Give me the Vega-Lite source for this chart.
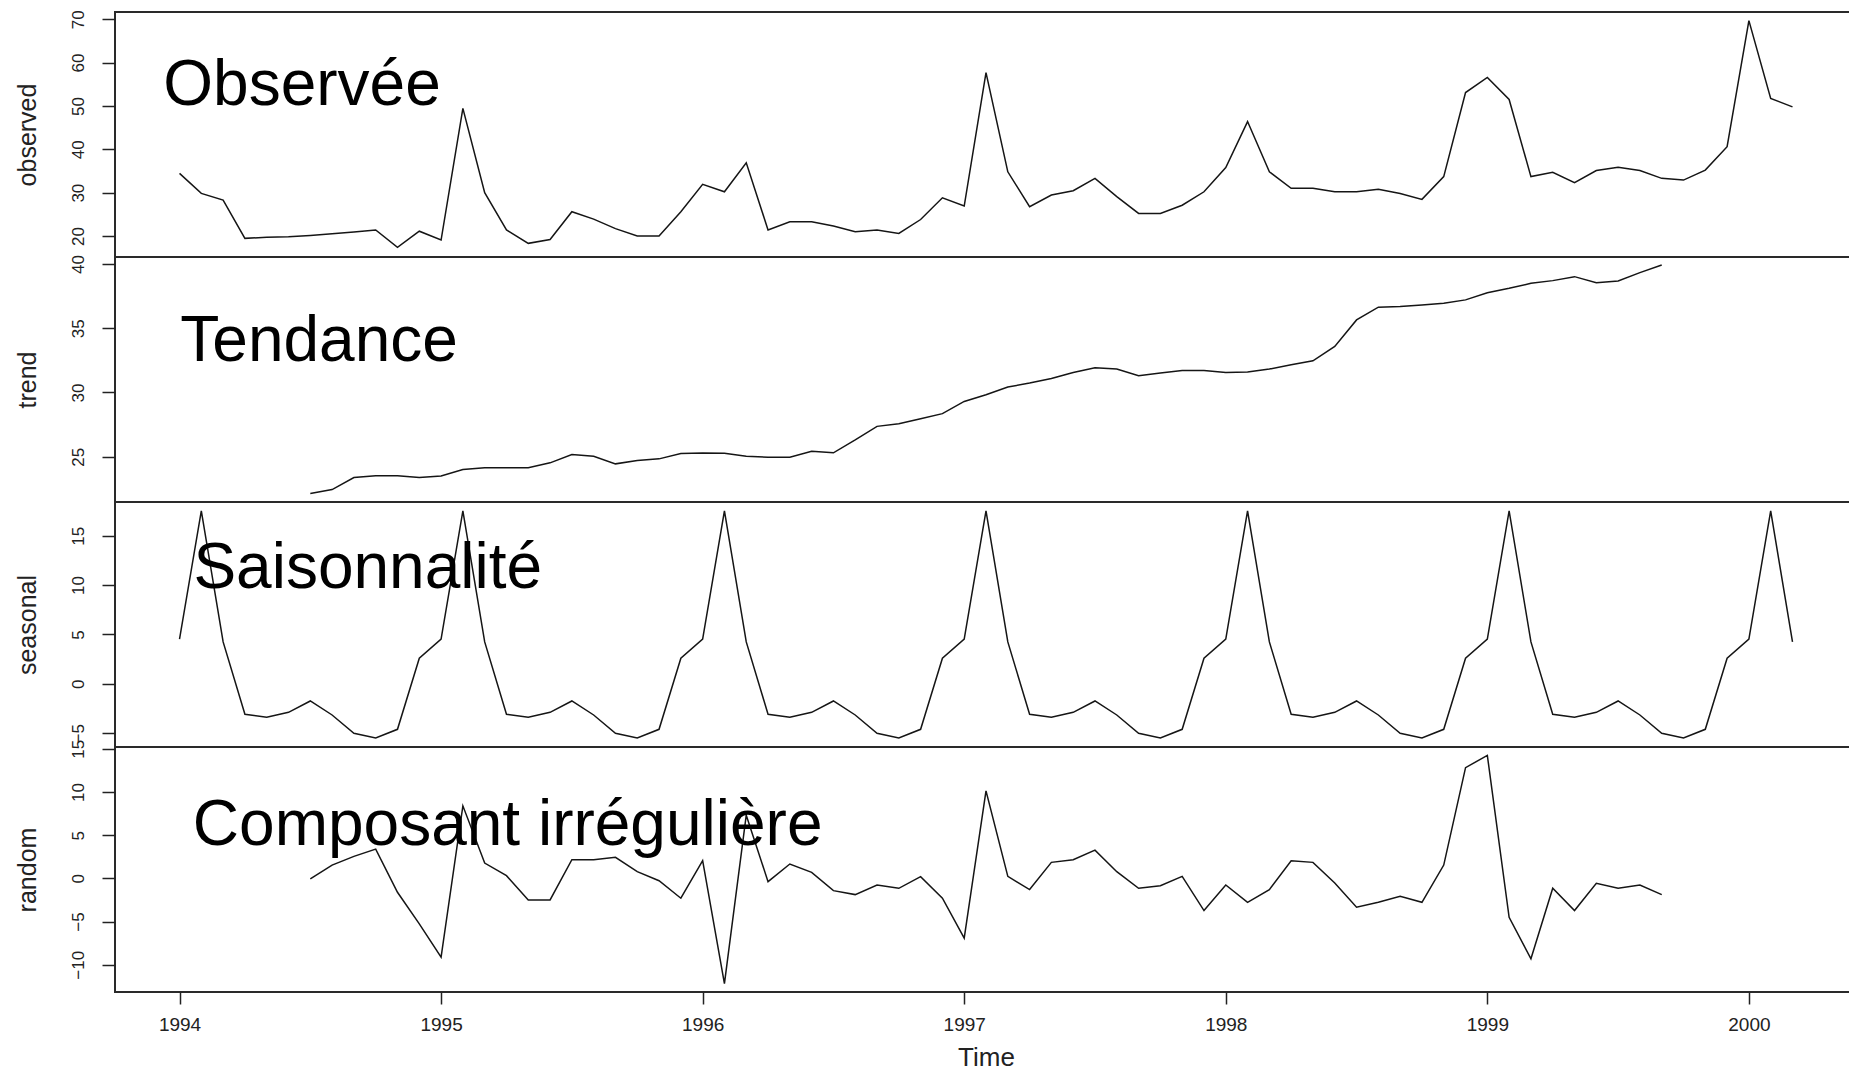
{
  "$schema": "https://vega.github.io/schema/vega-lite/v6.json",
  "autosize": {"type": "none"},
  "padding": {"left": 115, "top": 12, "right": 1734, "bottom": 1059},
  "background": "white",
  "spacing": 0,
  "bounds": "flush",
  "datasets": {
    "ts": [
      {"t": 1994, "observed": 34.45, "seasonal": 4.54},
      {"t": 1994.0833, "observed": 29.83, "seasonal": 17.5},
      {"t": 1994.1667, "observed": 28.3, "seasonal": 4.25},
      {"t": 1994.25, "observed": 19.45, "seasonal": -3.08},
      {"t": 1994.3333, "observed": 19.7, "seasonal": -3.38},
      {"t": 1994.4167, "observed": 19.8, "seasonal": -2.88},
      {"t": 1994.5, "observed": 20.1, "trend": 22.13, "seasonal": -1.73, "random": -0.07},
      {"t": 1994.5833, "observed": 20.5, "trend": 22.44, "seasonal": -3.15, "random": 1.54},
      {"t": 1994.6667, "observed": 20.9, "trend": 23.37, "seasonal": -5.0, "random": 2.54},
      {"t": 1994.75, "observed": 21.4, "trend": 23.51, "seasonal": -5.48, "random": 3.39},
      {"t": 1994.8333, "observed": 17.4, "trend": 23.51, "seasonal": -4.6, "random": -1.61},
      {"t": 1994.9167, "observed": 21.1, "trend": 23.37, "seasonal": 2.59, "random": -5.27},
      {"t": 1995, "observed": 19.07, "trend": 23.5, "seasonal": 4.54, "random": -9.11},
      {"t": 1995.0833, "observed": 49.45, "trend": 24.0, "seasonal": 17.5, "random": 8.39},
      {"t": 1995.1667, "observed": 30.0, "trend": 24.13, "seasonal": 4.25, "random": 1.77},
      {"t": 1995.25, "observed": 21.4, "trend": 24.13, "seasonal": -3.08, "random": 0.31},
      {"t": 1995.3333, "observed": 18.3, "trend": 24.14, "seasonal": -3.38, "random": -2.5},
      {"t": 1995.4167, "observed": 19.2, "trend": 24.52, "seasonal": -2.88, "random": -2.5},
      {"t": 1995.5, "observed": 25.6, "trend": 25.16, "seasonal": -1.73, "random": 2.16},
      {"t": 1995.5833, "observed": 23.9, "trend": 25.03, "seasonal": -3.15, "random": 2.16},
      {"t": 1995.6667, "observed": 21.7, "trend": 24.44, "seasonal": -5.0, "random": 2.43},
      {"t": 1995.75, "observed": 20.0, "trend": 24.7, "seasonal": -5.48, "random": 0.77},
      {"t": 1995.8333, "observed": 20.0, "trend": 24.83, "seasonal": -4.6, "random": -0.27},
      {"t": 1995.9167, "observed": 25.6, "trend": 25.24, "seasonal": 2.59, "random": -2.3},
      {"t": 1996, "observed": 31.9, "trend": 25.29, "seasonal": 4.54, "random": 2.04},
      {"t": 1996.0833, "observed": 30.2, "trend": 25.27, "seasonal": 17.5, "random": -12.19},
      {"t": 1996.1667, "observed": 36.9, "trend": 25.03, "seasonal": 4.25, "random": 7.31},
      {"t": 1996.25, "observed": 21.4, "trend": 24.95, "seasonal": -3.08, "random": -0.38},
      {"t": 1996.3333, "observed": 23.3, "trend": 24.95, "seasonal": -3.38, "random": 1.66},
      {"t": 1996.4167, "observed": 23.3, "trend": 25.42, "seasonal": -2.88, "random": 0.7},
      {"t": 1996.5, "observed": 22.3, "trend": 25.3, "seasonal": -1.73, "random": -1.42},
      {"t": 1996.5833, "observed": 21.0, "trend": 26.3, "seasonal": -3.15, "random": -1.88},
      {"t": 1996.6667, "observed": 21.4, "trend": 27.36, "seasonal": -5.0, "random": -0.77},
      {"t": 1996.75, "observed": 20.6, "trend": 27.57, "seasonal": -5.48, "random": -1.15},
      {"t": 1996.8333, "observed": 23.8, "trend": 27.96, "seasonal": -4.6, "random": 0.2},
      {"t": 1996.9167, "observed": 28.8, "trend": 28.35, "seasonal": 2.59, "random": -2.3},
      {"t": 1997, "observed": 26.9, "trend": 29.3, "seasonal": 4.54, "random": -6.92},
      {"t": 1997.0833, "observed": 57.7, "trend": 29.82, "seasonal": 17.5, "random": 10.12},
      {"t": 1997.1667, "observed": 34.8, "trend": 30.42, "seasonal": 4.25, "random": 0.23},
      {"t": 1997.25, "observed": 26.75, "trend": 30.73, "seasonal": -3.08, "random": -1.3},
      {"t": 1997.3333, "observed": 29.45, "trend": 31.09, "seasonal": -3.38, "random": 1.85},
      {"t": 1997.4167, "observed": 30.45, "trend": 31.56, "seasonal": -2.88, "random": 2.16},
      {"t": 1997.5, "observed": 33.3, "trend": 31.92, "seasonal": -1.73, "random": 3.27},
      {"t": 1997.5833, "observed": 29.07, "trend": 31.82, "seasonal": -3.15, "random": 0.77},
      {"t": 1997.6667, "observed": 25.2, "trend": 31.3, "seasonal": -5.0, "random": -1.15},
      {"t": 1997.75, "observed": 25.2, "trend": 31.51, "seasonal": -5.48, "random": -0.85},
      {"t": 1997.8333, "observed": 27.1, "trend": 31.72, "seasonal": -4.6, "random": 0.23},
      {"t": 1997.9167, "observed": 30.2, "trend": 31.72, "seasonal": 2.59, "random": -3.73},
      {"t": 1998, "observed": 35.8, "trend": 31.56, "seasonal": 4.54, "random": -0.77},
      {"t": 1998.0833, "observed": 46.4, "trend": 31.59, "seasonal": 17.5, "random": -2.77},
      {"t": 1998.1667, "observed": 34.8, "trend": 31.82, "seasonal": 4.25, "random": -1.3},
      {"t": 1998.25, "observed": 31.0, "trend": 32.16, "seasonal": -3.08, "random": 2.04},
      {"t": 1998.3333, "observed": 31.0, "trend": 32.47, "seasonal": -3.38, "random": 1.85},
      {"t": 1998.4167, "observed": 30.2, "trend": 33.58, "seasonal": -2.88, "random": -0.54},
      {"t": 1998.5, "observed": 30.2, "trend": 35.65, "seasonal": -1.73, "random": -3.34},
      {"t": 1998.5833, "observed": 30.8, "trend": 36.64, "seasonal": -3.15, "random": -2.77},
      {"t": 1998.6667, "observed": 29.8, "trend": 36.69, "seasonal": -5.0, "random": -2.08},
      {"t": 1998.75, "observed": 28.45, "trend": 36.82, "seasonal": -5.48, "random": -2.77},
      {"t": 1998.8333, "observed": 33.7, "trend": 36.95, "seasonal": -4.6, "random": 1.54},
      {"t": 1998.9167, "observed": 53.1, "trend": 37.21, "seasonal": 2.59, "random": 12.81},
      {"t": 1999, "observed": 56.6, "trend": 37.77, "seasonal": 4.54, "random": 14.23},
      {"t": 1999.0833, "observed": 51.5, "trend": 38.11, "seasonal": 17.5, "random": -4.5},
      {"t": 1999.1667, "observed": 33.7, "trend": 38.5, "seasonal": 4.25, "random": -9.31},
      {"t": 1999.25, "observed": 34.7, "trend": 38.71, "seasonal": -3.08, "random": -1.15},
      {"t": 1999.3333, "observed": 32.3, "trend": 39.02, "seasonal": -3.38, "random": -3.73},
      {"t": 1999.4167, "observed": 35.1, "trend": 38.55, "seasonal": -2.88, "random": -0.57},
      {"t": 1999.5, "observed": 35.85, "trend": 38.68, "seasonal": -1.73, "random": -1.15},
      {"t": 1999.5833, "observed": 35.1, "trend": 39.33, "seasonal": -3.15, "random": -0.77},
      {"t": 1999.6667, "observed": 33.3, "trend": 39.93, "seasonal": -5.0, "random": -1.88},
      {"t": 1999.75, "observed": 32.9, "seasonal": -5.48},
      {"t": 1999.8333, "observed": 35.2, "seasonal": -4.6},
      {"t": 1999.9167, "observed": 40.6, "seasonal": 2.59},
      {"t": 2000, "observed": 69.7, "seasonal": 4.54},
      {"t": 2000.0833, "observed": 51.75, "seasonal": 17.5},
      {"t": 2000.1667, "observed": 49.8, "seasonal": 4.25}
    ],
    "notes": [
      {"panel": "observed", "label": "Observée", "x": 1993.938, "y": 50.2},
      {"panel": "trend", "label": "Tendance", "x": 1994.003, "y": 32.47},
      {"panel": "seasonal", "label": "Saisonnalité", "x": 1994.053, "y": 9.71},
      {"panel": "random", "label": "Composant irrégulière", "x": 1994.051, "y": 3.87}
    ]
  },
  "config": {
    "font": "Liberation Sans",
    "view": {"stroke": "#2a2a2a", "strokeWidth": 2},
    "line": {"color": "#151515", "strokeWidth": 1.5},
    "text": {"font": "Liberation Sans"},
    "axisY": {
      "labelAngle": 270, "labelAlign": "center", "labelBaseline": "alphabetic",
      "labelPadding": 19, "tickSize": 13, "labelFontSize": 17,
      "titleFontSize": 25, "titleFontWeight": "normal", "titleX": -80, "titleY": 122.5,
      "titleAngle": 270, "titleAlign": "center", "titleBaseline": "alphabetic",
      "domain": false, "grid": false, "labelFlush": false, "labelOverlap": false,
      "tickColor": "#222", "tickWidth": 1.5, "labelColor": "#222", "titleColor": "#222"
    },
    "axisX": {
      "tickSize": 12, "labelPadding": 26, "labelBaseline": "alphabetic", "labelFontSize": 19,
      "titleFontSize": 26, "titleFontWeight": "normal", "titleY": 73, "titleBaseline": "alphabetic",
      "domain": false, "grid": false, "labelFlush": false, "labelOverlap": false,
      "tickColor": "#222", "tickWidth": 1.5, "labelColor": "#222", "titleColor": "#222"
    }
  },
  "vconcat": [
    {
      "width": 1742, "height": 245,
      "layer": [
        {
          "data": {"name": "ts"},
          "mark": {"type": "line"},
          "encoding": {
            "x": {"field": "t", "type": "quantitative", "scale": {"domain": [1993.7533, 2000.4133], "nice": false, "zero": false}, "axis": null},
            "y": {"field": "observed", "type": "quantitative", "title": "observed", "scale": {"domain": [15.15, 71.68], "nice": false, "zero": false}, "axis": {"values": [20, 30, 40, 50, 60, 70], "title": "observed"}}
          }
        },
        {
          "data": {"name": "notes"},
          "transform": [{"filter": "datum.panel == 'observed'"}],
          "mark": {"type": "text", "align": "left", "baseline": "alphabetic", "fontSize": 64, "color": "#000"},
          "encoding": {
            "x": {"field": "x", "type": "quantitative", "axis": null},
            "y": {"field": "y", "type": "quantitative", "title": "observed"},
            "text": {"field": "label"}
          }
        }
      ]
    },
    {
      "width": 1742, "height": 245,
      "layer": [
        {
          "data": {"name": "ts"},
          "mark": {"type": "line"},
          "encoding": {
            "x": {"field": "t", "type": "quantitative", "scale": {"domain": [1993.7533, 2000.4133], "nice": false, "zero": false}, "axis": null},
            "y": {"field": "trend", "type": "quantitative", "title": "trend", "scale": {"domain": [21.47, 40.55], "nice": false, "zero": false}, "axis": {"values": [25, 30, 35, 40], "title": "trend"}}
          }
        },
        {
          "data": {"name": "notes"},
          "transform": [{"filter": "datum.panel == 'trend'"}],
          "mark": {"type": "text", "align": "left", "baseline": "alphabetic", "fontSize": 64, "color": "#000"},
          "encoding": {
            "x": {"field": "x", "type": "quantitative", "axis": null},
            "y": {"field": "y", "type": "quantitative", "title": "trend"},
            "text": {"field": "label"}
          }
        }
      ]
    },
    {
      "width": 1742, "height": 245,
      "layer": [
        {
          "data": {"name": "ts"},
          "mark": {"type": "line"},
          "encoding": {
            "x": {"field": "t", "type": "quantitative", "scale": {"domain": [1993.7533, 2000.4133], "nice": false, "zero": false}, "axis": null},
            "y": {"field": "seasonal", "type": "quantitative", "title": "seasonal", "scale": {"domain": [-6.39, 18.41], "nice": false, "zero": false}, "axis": {"values": [-5, 0, 5, 10, 15], "title": "seasonal"}}
          }
        },
        {
          "data": {"name": "notes"},
          "transform": [{"filter": "datum.panel == 'seasonal'"}],
          "mark": {"type": "text", "align": "left", "baseline": "alphabetic", "fontSize": 64, "color": "#000"},
          "encoding": {
            "x": {"field": "x", "type": "quantitative", "axis": null},
            "y": {"field": "y", "type": "quantitative", "title": "seasonal"},
            "text": {"field": "label"}
          }
        }
      ]
    },
    {
      "width": 1742, "height": 245,
      "layer": [
        {
          "data": {"name": "ts"},
          "mark": {"type": "line"},
          "encoding": {
            "x": {"field": "t", "type": "quantitative", "title": "Time", "scale": {"domain": [1993.7533, 2000.4133], "nice": false, "zero": false}, "axis": {"values": [1994, 1995, 1996, 1997, 1998, 1999, 2000], "format": "d", "title": "Time"}},
            "y": {"field": "random", "type": "quantitative", "title": "random", "scale": {"domain": [-13.15, 15.2], "nice": false, "zero": false}, "axis": {"values": [-10, -5, 0, 5, 10, 15], "title": "random"}}
          }
        },
        {
          "data": {"name": "notes"},
          "transform": [{"filter": "datum.panel == 'random'"}],
          "mark": {"type": "text", "align": "left", "baseline": "alphabetic", "fontSize": 64, "color": "#000"},
          "encoding": {
            "x": {"field": "x", "type": "quantitative", "title": "Time"},
            "y": {"field": "y", "type": "quantitative", "title": "random"},
            "text": {"field": "label"}
          }
        }
      ]
    }
  ]
}
